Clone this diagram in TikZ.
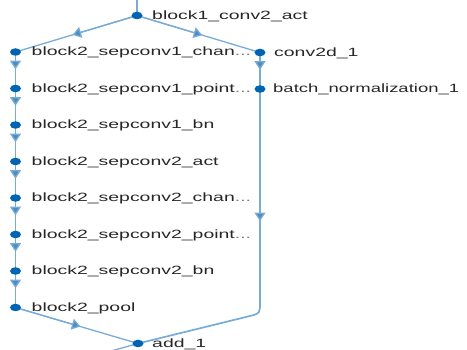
\documentclass[tikz,border=0pt]{standalone}
\usepackage{fontspec}
\setmainfont{Liberation Sans}
\usetikzlibrary{arrows.meta,backgrounds,shapes.geometric,calc}
\definecolor{edgecol}{RGB}{120,172,214}
\definecolor{arrcol}{RGB}{75,140,198}
\definecolor{nodecol}{RGB}{0,100,180}
\definecolor{txtcol}{RGB}{38,38,38}
\definecolor{morecol}{RGB}{120,120,120}
\newcommand{\lbl}[1]{\scalebox{1.62}[1]{#1}}
\newcommand{\more}{\textcolor{morecol}{...}}
\begin{document}
\begin{tikzpicture}[x=1pt,y=1pt,
  dot/.style={ellipse,minimum width=11pt,minimum height=7.5pt,inner sep=0pt,fill=nodecol,draw=none},
  lab/.style={anchor=base west,inner sep=0pt,text=txtcol,font=\fontsize{12}{14}\selectfont},
  edge/.style={draw=edgecol,line width=1.3pt},
  halfarrow/.style={draw=edgecol,line width=1.3pt,-{Triangle[width=11pt,length=8.5pt,fill=arrcol]}}]
\useasboundingbox (0,0) rectangle (467,-350);
% nodes (dots)
\node[dot] (b1) at (137,-15.5) {};
\node[dot] (l1) at (15.5,-52) {};
\node[dot] (r1) at (260,-52.5) {};
\node[dot] (l2) at (15.5,-88.5) {};
\node[dot] (r2) at (260,-89) {};
\node[dot] (l3) at (15.5,-125) {};
\node[dot] (l4) at (15.5,-161.5) {};
\node[dot] (l5) at (15.5,-198) {};
\node[dot] (l6) at (15.5,-234.5) {};
\node[dot] (l7) at (15.5,-271) {};
\node[dot] (l8) at (15.5,-307.5) {};
\node[dot] (add) at (138,-343.5) {};
\coordinate (top) at (137,2);
\coordinate (bot) at (104,-353);
\coordinate (bend) at (260,-302);
\coordinate (bctl) at (260,-313.5);
\coordinate (bend2) at (250,-316);
% labels
\node[lab] (tb1) at (152,-19.5) {\lbl{block1\_conv2\_act}};
\node[lab] (tl1) at (31.5,-56) {\lbl{block2\_sepconv1\_chan\more}};
\node[lab] (tr1) at (274,-56.5) {\lbl{conv2d\_1}};
\node[lab] (tl2) at (31.5,-92.5) {\lbl{block2\_sepconv1\_point\more}};
\node[lab] (tr2) at (273,-93) {\scalebox{1.54}[1]{batch\_normalization\_1}};
\node[lab] (tl3) at (31.5,-129) {\lbl{block2\_sepconv1\_bn}};
\node[lab] (tl4) at (31.5,-165.5) {\lbl{block2\_sepconv2\_act}};
\node[lab] (tl5) at (31.5,-202) {\lbl{block2\_sepconv2\_chan\more}};
\node[lab] (tl6) at (31.5,-238.5) {\lbl{block2\_sepconv2\_point\more}};
\node[lab] (tl7) at (31.5,-275) {\lbl{block2\_sepconv2\_bn}};
\node[lab] (tl8) at (31.5,-311.5) {\lbl{block2\_pool}};
\node[lab] (tadd) at (152,-347.5) {\lbl{add\_1}};
% edges
\begin{scope}[on background layer]
\draw[edge] (top) -- (b1.center);
\foreach \a/\b/\f in {b1/l1/0.53,b1/r1/0.53,l1/l2/0.47,l2/l3/0.47,l3/l4/0.47,l4/l5/0.47,l5/l6/0.47,l6/l7/0.47,l7/l8/0.47,r1/r2/0.47,l8/add/0.53}{
  \draw[edge] (\a.center) -- (\b.center);
  \draw[halfarrow] (\a.center) -- ($(\a.center)!\f!(\b.center)$);
}
\draw[edge,line width=1.7pt] (r2.center) -- (bend) .. controls (bctl) .. (bend2) -- (add.center);
\draw[halfarrow] (r2.center) -- ($(r2.center)!0.62!(bend)$);
\draw[edge] (add.center) -- (bot);
\end{scope}
\end{tikzpicture}
\end{document}
